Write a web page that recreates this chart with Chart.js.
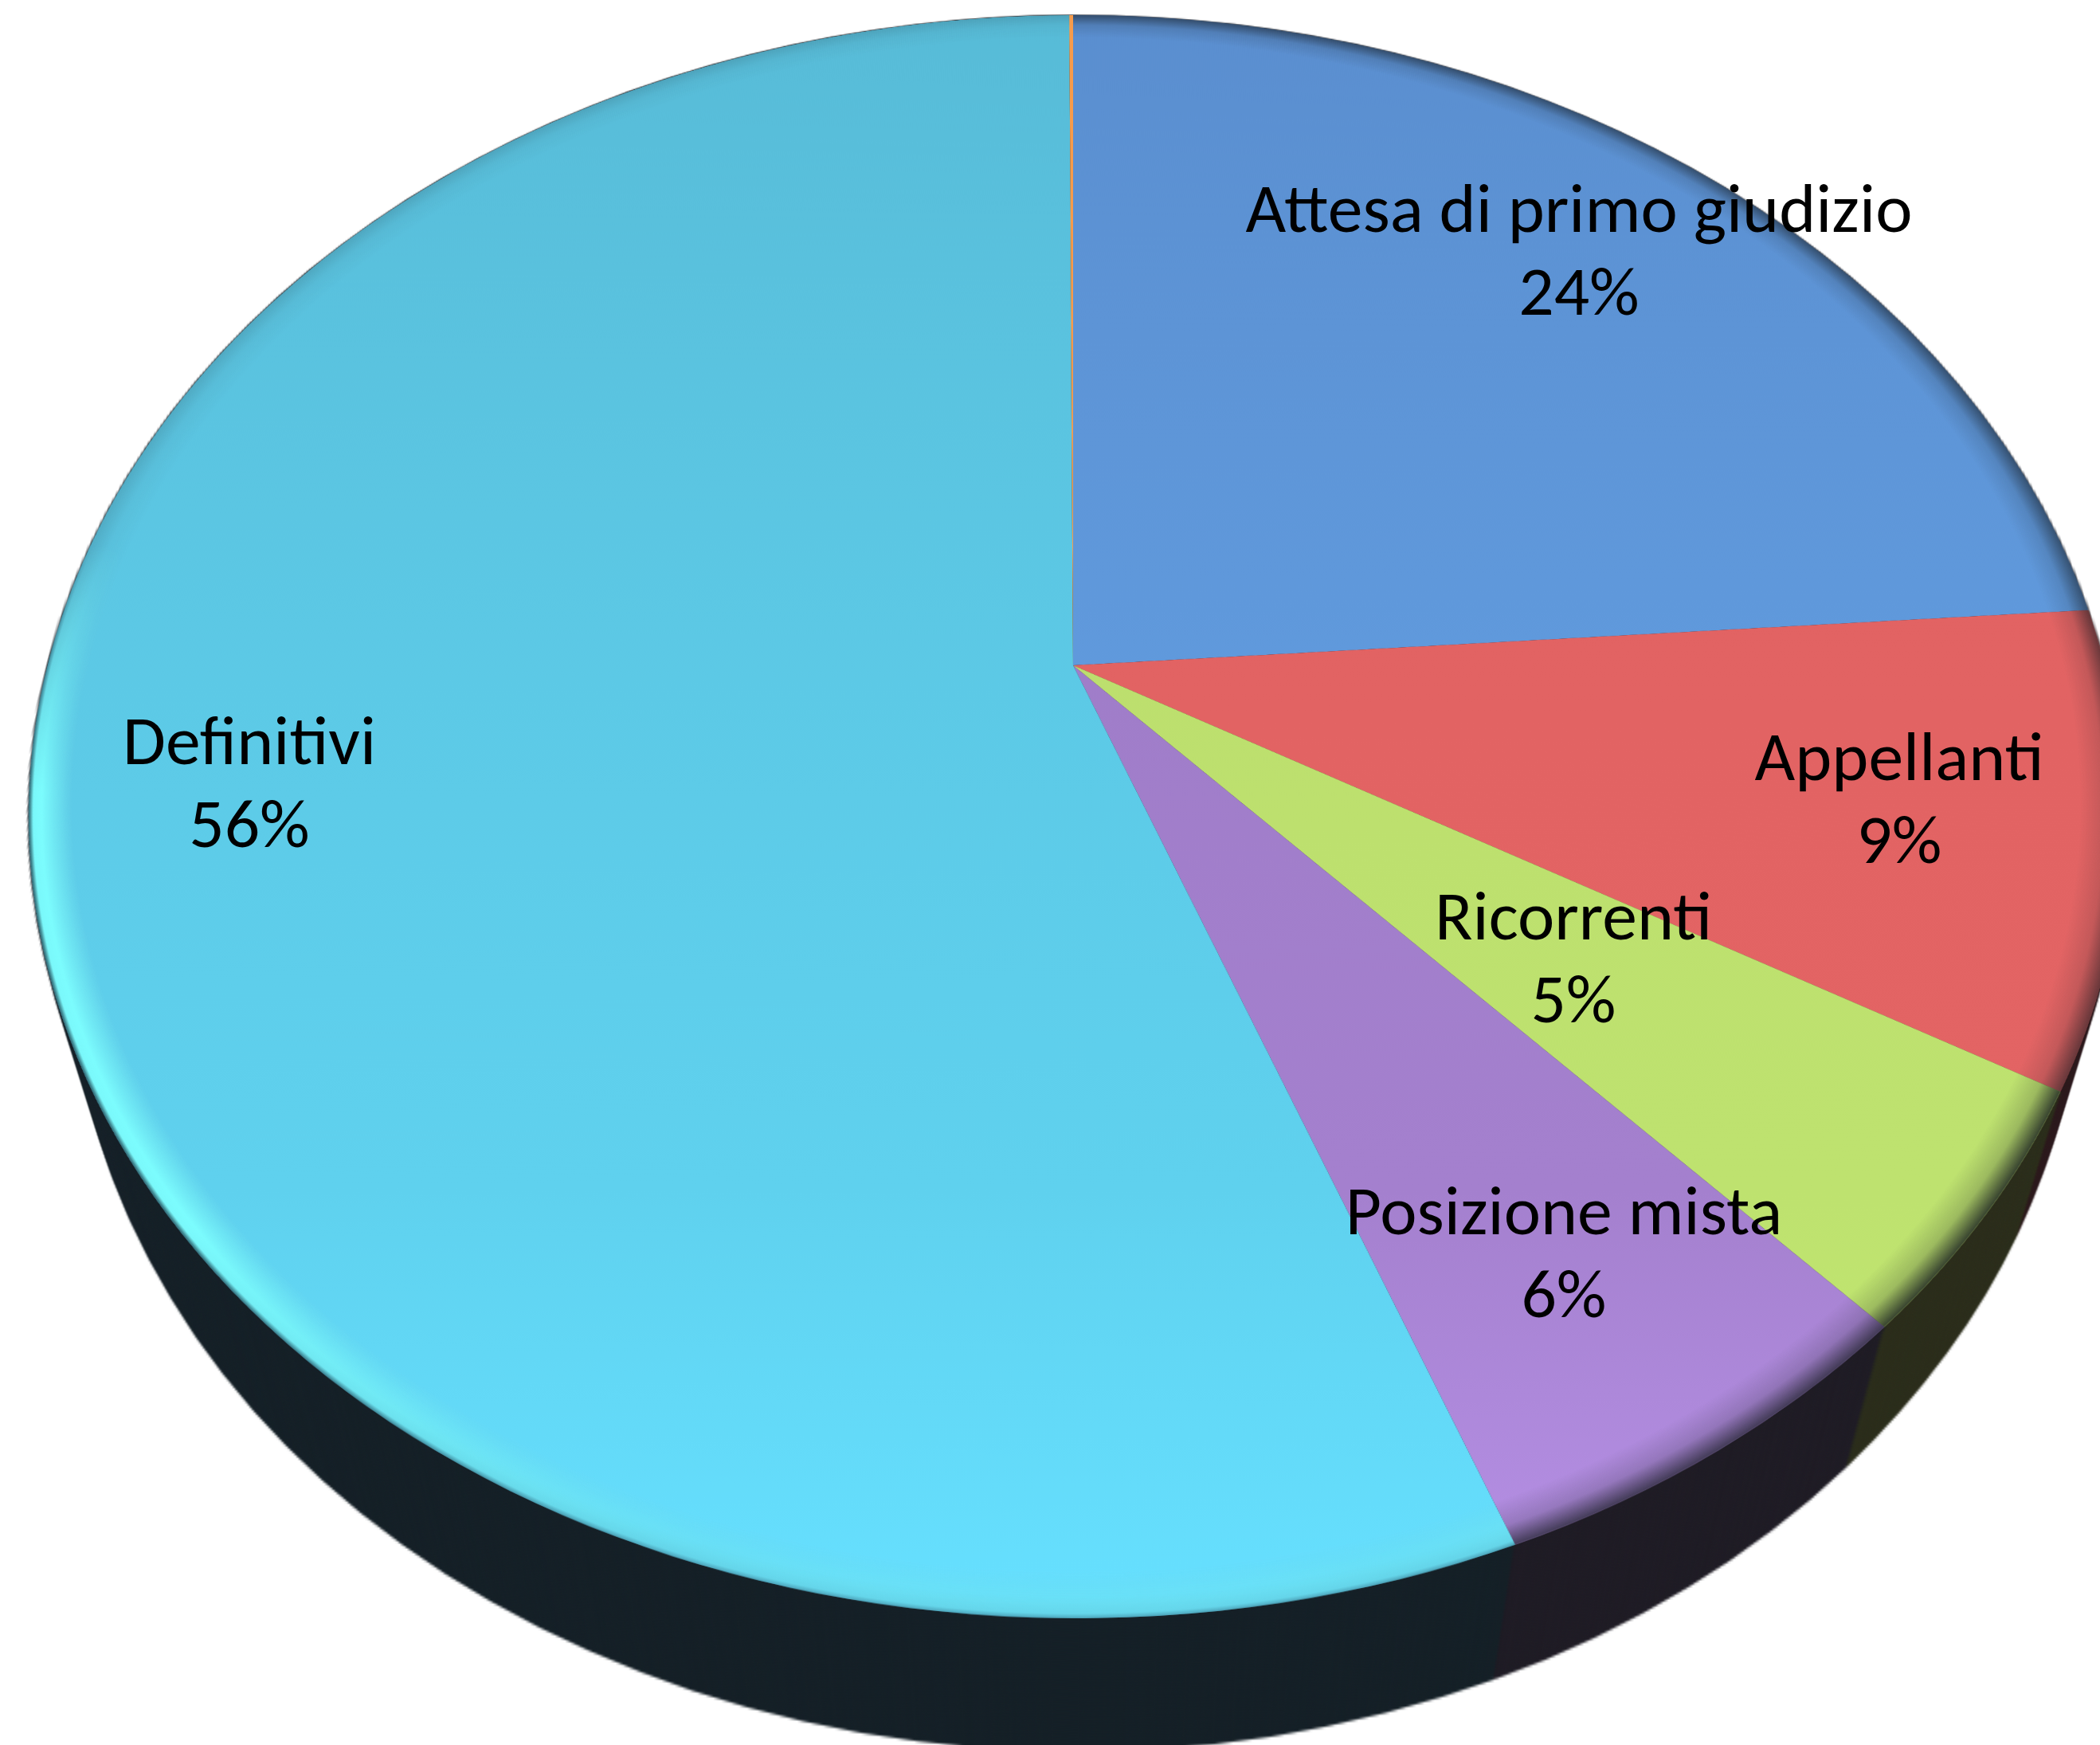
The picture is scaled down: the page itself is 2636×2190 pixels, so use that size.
<!DOCTYPE html>
<html>
<head>
<meta charset="utf-8">
<script src="https://cdn.jsdelivr.net/npm/chart.js@4"></script>
<style>
html, body { margin: 0; background: #fff; }
#stage { position: relative; width: 2636px; height: 2190px; overflow: hidden; background: #fff; }
#stage canvas { position: absolute; transform-origin: 50% 50%; }
.lab { position: absolute; transform: translateX(-50%) scaleX(1.02); text-align: center; white-space: nowrap;
  font-family: Carlito, Lato, sans-serif; font-size: 86px; line-height: 104px; color: #000; }
</style>
</head>
<body>
<div id="stage"></div>
<script>
// data
var labels = ['Attesa di primo giudizio', 'Appellanti', 'Ricorrenti', 'Posizione mista', 'Definitivi', ''];
var values = [23.85, 9.45, 4.85, 6.1, 55.68, 0.07];
var percents = ['24%', '9%', '5%', '6%', '56%'];

// colours per slice, top / lower part / bottom of the disc
var topColors = ['#5a8ecf', '#e06161', '#bada6c', '#9878c0', '#57bbd7', '#f79b4b'];
var midColors = ['#63a0e4', '#e36464', '#bee26f', '#a480ce', '#5fd1ee', '#f79b4b'];
var bottomColors = ['#66a6ea', '#e56666', '#c2e870', '#b690e6', '#66e0ff', '#f79b4b'];
var sideColors = ['#171f2c', '#2a171a', '#2a2c1a', '#1e1b24', '#141f26', '#141f26'];
var shadeAlpha = [0.55, 0.6, 0.8, 0.7, 0.15, 0];

// where the label text sits
var labelX = [1982, 2384, 1975, 1963, 313];
var labelY = [210, 898, 1098, 1468, 878];

// perspective of the disc, pixels relative to the pie centre
var centerX = 1347, centerY = 835;
var scaleA = 1291, scaleB = 970, tilt = -0.189, tiltSide = -0.003;
var vanishX = 17, vanishY = 4544, depth = 0.0426;
var sideLayers = 46;

var stage = document.getElementById('stage');

function addPie(size, colors, cutout, depthAmount, grow) {
    var canvas = document.createElement('canvas');
    canvas.width = size;
    canvas.height = size;
    canvas.style.width = size + 'px';
    canvas.style.height = size + 'px';
    canvas.style.left = (centerX - size / 2) + 'px';
    canvas.style.top = (centerY - size / 2) + 'px';
    stage.appendChild(canvas);
    var chart = new Chart(canvas.getContext('2d'), {
        type: 'pie',
        data: {
            labels: labels,
            datasets: [{ data: values, backgroundColor: colors, borderWidth: 0 }]
        },
        options: {
            responsive: false,
            animation: false,
            cutout: cutout,
            layout: { padding: 2 },
            events: [],
            plugins: { legend: { display: false }, tooltip: { enabled: false } }
        }
    });
    // map the flat circle on to the tilted disc
    var r = chart.getDatasetMeta(0).controller.outerRadius;
    var a = scaleA * grow / r, b = scaleB * grow / r, k = tilt / r, j = tiltSide / r;
    var e = depthAmount;
    canvas.style.transform = 'matrix3d(' + [a, 0, 0, j, 0, b, 0, k, 0, 0, 1, 0, e * vanishX, e * vanishY, 0, 1 + e].join(',') + ')';
    return canvas;
}

// side wall: dark copies of the pie going down, deepest first
for (var i = sideLayers; i >= 0; i--) {
    addPie(900, sideColors, 0, depth * i / sideLayers, i == 0 ? 1.001 : 1);
}

// top face
function faceFill(context) {
    var area = context.chart.chartArea;
    if (!area) return topColors[context.dataIndex];
    var g = context.chart.ctx.createLinearGradient(0, area.top, 0, area.bottom);
    g.addColorStop(0, topColors[context.dataIndex]);
    g.addColorStop(0.8, midColors[context.dataIndex]);
    g.addColorStop(1, bottomColors[context.dataIndex]);
    return g;
}
addPie(2800, faceFill, 0, 0, 1);

// bevel round the edge: darker on the right and along the bottom
function shadeFill(context) {
    var area = context.chart.chartArea;
    if (!area) return 'transparent';
    var cx = (area.left + area.right) / 2, cy = (area.top + area.bottom) / 2, r = (area.right - area.left) / 2;
    var g = context.chart.ctx.createRadialGradient(cx, cy, r * 0.96, cx, cy, r);
    var s = shadeAlpha[context.dataIndex];
    g.addColorStop(0, 'rgba(20,25,30,0)');
    g.addColorStop(0.55, 'rgba(20,25,30,' + s * 0.25 + ')');
    g.addColorStop(1, 'rgba(20,25,30,' + s + ')');
    return g;
}
addPie(2800, shadeFill, '96%', 0, 1);

// bright edge on the big slice, only on its lower part
function glowFill(context) {
    var area = context.chart.chartArea;
    if (!area || context.dataIndex != 4) return 'transparent';
    var cx = (area.left + area.right) / 2, cy = (area.top + area.bottom) / 2, r = (area.right - area.left) / 2;
    var g = context.chart.ctx.createRadialGradient(cx, cy, r * 0.96, cx, cy, r);
    g.addColorStop(0, 'rgba(125,255,255,0)');
    g.addColorStop(0.7, 'rgba(125,255,255,0.95)');
    g.addColorStop(0.9, 'rgba(125,255,255,0.9)');
    g.addColorStop(1, 'rgba(40,90,100,0.9)');
    return g;
}
var glow = addPie(2800, glowFill, '96%', 0, 1);
glow.style.webkitMaskImage = 'linear-gradient(to bottom, transparent 42%, #000 58%, #000 82%, rgba(0,0,0,0.3) 97%)';
glow.style.maskImage = 'linear-gradient(to bottom, transparent 42%, #000 58%, #000 82%, rgba(0,0,0,0.3) 97%)';

// labels with percentages
labelX.forEach(function (x, i) {
    var div = document.createElement('div');
    div.className = 'lab';
    div.style.left = x + 'px';
    div.style.top = labelY[i] + 'px';
    div.innerHTML = labels[i] + '<br>' + percents[i];
    stage.appendChild(div);
});
</script>
</body>
</html>
